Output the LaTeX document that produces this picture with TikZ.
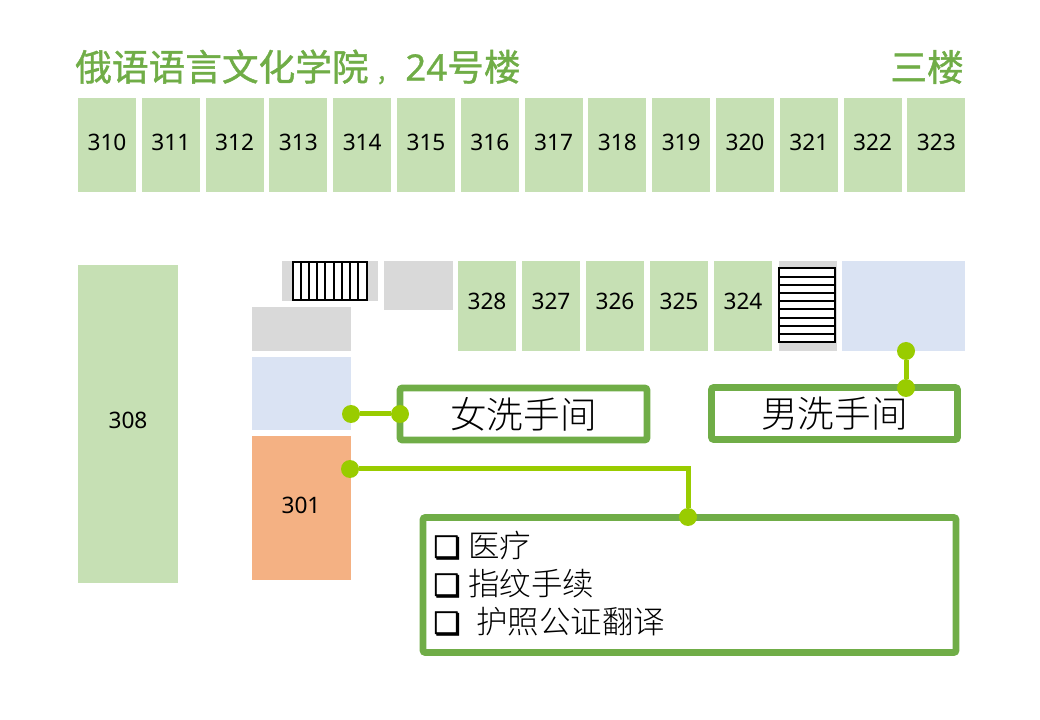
\documentclass[tikz,border=0pt]{standalone}
\usepackage{fontspec}
\setmainfont{Noto Sans CJK SC}
\newfontfamily\symfont[FakeBold=1.6]{DejaVu Sans}
\newfontfamily\numfont{Noto Sans}
\newfontfamily\titlefont[FakeBold=1.2]{Noto Sans CJK SC}
\newfontfamily\titlenum[FakeBold=0.8]{Noto Sans}
\newfontfamily\thinfont{Noto Sans CJK SC Light}
\usetikzlibrary{positioning}
\definecolor{roomgreen}{HTML}{C6E0B4}
\definecolor{washblue}{HTML}{DAE3F3}
\definecolor{stairgray}{HTML}{D9D9D9}
\definecolor{officeorange}{HTML}{F4B183}
\definecolor{framegreen}{HTML}{70AD47}
\definecolor{linkgreen}{HTML}{99CC00}
\tikzset{room/.style = {fill = #1, inner sep = 0}}
\tikzset{sized/.style 2 args = {minimum width = #1*0.75pt, minimum height = #2*0.75pt}}
\tikzset{infobox/.style = {draw = framegreen, line width = 4.9pt, rounded corners = 1.5pt, fill = white, inner sep = 0}}
\tikzset{circ/.style = {fill = linkgreen, circle, inner sep = 0, minimum size = 13.5pt}}
\tikzset{link/.style = {draw = linkgreen, line width = 3.75pt}}
\tikzset{stairs/.style = {draw = black, line width = 1.5pt}}
\tikzset{roomlabel/.style = {font = \numfont\fontsize{17}{20}\selectfont}}
\tikzset{listitem/.style = {anchor = west, inner sep = 0, font = \thinfont\fontsize{23.6}{28}\selectfont}}
\newcommand{\chk}[1]{\makebox[#1][l]{\symfont\fontsize{23}{24}\selectfont ❏}}

\begin{document}
\begin{tikzpicture}[x=0.75pt, y=-0.75pt]
  \useasboundingbox (0, 0) rectangle (1040, 720);

  \node [anchor = west, inner sep = 0, text = framegreen, font = \titlefont\fontsize{27.5}{32}\selectfont] (title) at (75, 67) {俄语语言文化学院\hspace{7pt}{\raisebox{1pt}{\fontsize{20}{24}\selectfont ,}}\hspace{15pt}{\titlenum 24}号楼};
  \node [anchor = east, inner sep = 0, text = framegreen, font = \titlefont\fontsize{27.5}{32}\selectfont] (floor) at (964, 67) {三楼};

  % top row
  \foreach \n [count = \i from 0] in {310, ..., 323} {
    \node [room = roomgreen, sized = {58}{94}] (r\n) at (107 + 63.8*\i, 145) {};
    \node [roomlabel] at (107 + 63.8*\i, 142) {\n};
  }

  % lower row
  \foreach \n [count = \i from 0] in {328, 327, 326, 325, 324} {
    \node [room = roomgreen, sized = {58}{90}] (r\n) at (487 + 64*\i, 306) {};
    \node [roomlabel] at (487 + 64*\i, 301) {\n};
  }

  \node [room = roomgreen, sized = {100}{318}] (r308) at (128, 424) {};
  \node [roomlabel] at (128, 420) {308};
  \node [room = officeorange, sized = {99}{144}] (r301) at (301.5, 508) {};
  \node [roomlabel] at (301, 505) {301};

  \node [room = washblue, sized = {123}{90}] (menroom) at (903.5, 306) {};
  \node [room = washblue, sized = {99}{73}] (ladiesroom) at (301.5, 393.5) {};

  \node [room = stairgray, sized = {96}{40}] (g1) at (330, 281) {};
  \node [room = stairgray, sized = {69}{49}] (g2) at (418, 285.5) {};
  \node [room = stairgray, sized = {99}{44}] (g3) at (301.5, 329) {};
  \node [room = stairgray, sized = {58}{90}] (g4) at (808, 306) {};

  % stairs
  \draw [stairs, fill = white] (292.5, 262) rectangle (366.5, 300);
  \foreach \i in {1, ..., 8}
    \draw [stairs] (292.5 + 8.22*\i, 262) -- (292.5 + 8.22*\i, 300);
  \draw [stairs, fill = white] (779, 268.5) rectangle (835, 342);
  \foreach \i in {1, ..., 8}
    \draw [stairs] (779, 268.5 + 8.17*\i) -- (835, 268.5 + 8.17*\i);

  % boxes
  \node [infobox, sized = {247}{52}, font = \thinfont\fontsize{27.5}{32}\selectfont] (ladies) at (523.5, 414) {女洗手间};
  \node [infobox, sized = {246}{52}, font = \thinfont\fontsize{27.5}{32}\selectfont] (men) at (834.5, 413.5) {男洗手间};
  \node [infobox, sized = {533}{135}] (services) at (689.5, 585) {};

  \node [listitem] (item1) at (433, 546) {\chk{26.25pt}医疗};
  \node [listitem] (item2) at (433, 584) {\chk{26.25pt}指纹手续};
  \node [listitem] (item3) at (433, 622) {\chk{32.25pt}护照公证翻译};

  % links
  \node [circ] (a) at (351, 414) {};
  \node [circ] (b) at (400, 414) {};
  \node [circ] (c) at (906, 351) {};
  \node [circ] (d) at (906, 388) {};
  \node [circ] (e) at (350, 469) {};
  \node [circ] (f) at (688, 517) {};

  \draw [link] (a) -- (b);
  \draw [link] (c) -- (d);
  \draw [link] (e) -| (f);
\end{tikzpicture}
\end{document}
